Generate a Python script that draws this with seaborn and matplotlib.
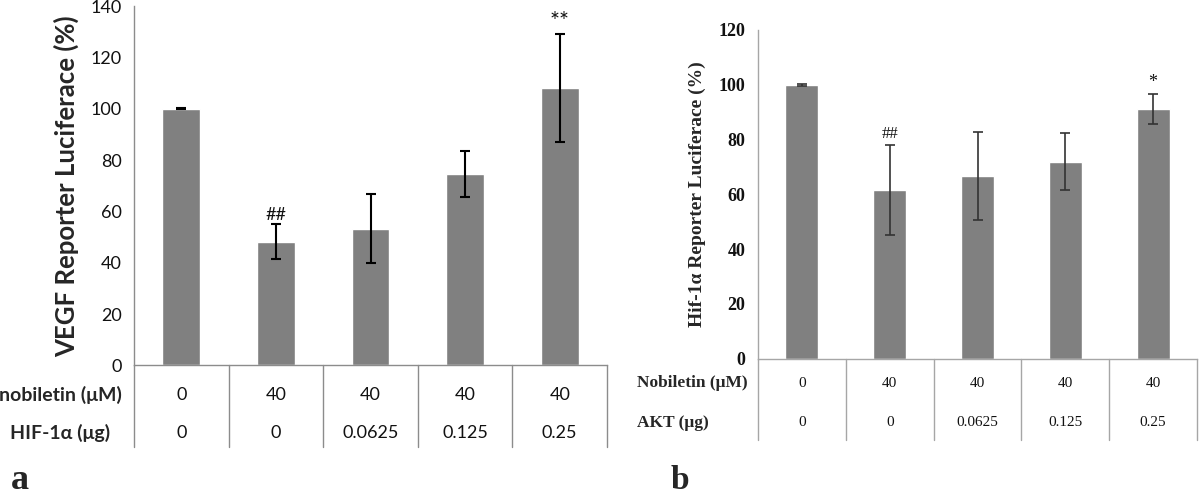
import numpy as np
import pandas as pd
import matplotlib
matplotlib.use("Agg")
import matplotlib.pyplot as plt
import matplotlib.transforms as mtransforms
import seaborn as sns

# panel a: VEGF reporter
nobiletin_a = ["0", "40", "40", "40", "40"]
hif_a = ["0", "0", "0.0625", "0.125", "0.25"]
vegf_mean = [100.0, 48.2, 53.3, 74.6, 108.2]
vegf_err = [0.3, 6.9, 13.5, 8.9, 21.0]
marks_a = ["", "##", "", "", "**"]

# panel b: Hif-1a reporter
nobiletin_b = ["0", "40", "40", "40", "40"]
akt_b = ["0", "0", "0.0625", "0.125", "0.25"]
hif_mean = [100.0, 61.5, 66.7, 71.9, 91.1]
hif_err = [0.3, 16.5, 16.0, 10.3, 5.5]
marks_b = ["", "##", "", "", "*"]

sns.set_style("white")
SANS = ["Lato", "DejaVu Sans"]
SERIF = ["Liberation Serif", "DejaVu Serif"]
plt.rcParams["font.family"] = SANS

W, H = 1200, 496
fig = plt.figure(figsize=(12, 4.96), dpi=100)


def px_axes(left, right, top, bottom):
    return fig.add_axes([left / W, 1 - bottom / H, (right - left) / W, (bottom - top) / H])


def draw_panel(ax, row1, row2, mean, err, marks, ymax, step, font, tick_size,
               val_size, ecolor, elw, spine_col, width, table_depth, rows_y, mark_off):
    df = pd.DataFrame({"cond": [f"{a}|{b}" for a, b in zip(row1, row2)], "val": mean})
    sns.barplot(data=df, x="cond", y="val", color="#808080", saturation=1,
                width=width, errorbar=None, ax=ax)
    ax.errorbar(np.arange(len(mean)), mean, yerr=err, fmt="none", ecolor=ecolor,
                elinewidth=elw, capsize=3.6, capthick=elw)
    ax.set_xlim(-0.5, len(mean) - 0.5)
    ax.set_ylim(0, ymax)
    ax.set_yticks(np.arange(0, ymax + 1, step))
    ax.set_xticks([])
    ax.set_xlabel("")
    ax.set_ylabel("")
    for s in ["top", "right"]:
        ax.spines[s].set_visible(False)
    for s in ["left", "bottom"]:
        ax.spines[s].set_color(spine_col)
        ax.spines[s].set_linewidth(1.0)
    ax.tick_params(axis="y", direction="out", length=5, width=1.0, color=spine_col,
                   pad=4, labelsize=tick_size)
    for lab in ax.get_yticklabels():
        lab.set_family(font["family"])
        lab.set_fontweight(font["tick_weight"])
        lab.set_color("#111111")
    # significance marks
    for i, (m, v, e) in enumerate(zip(marks, mean, err)):
        if m:
            size = font["star_size"] if "*" in m else font["mark_size"]
            ax.text(i, v + e + mark_off, m, ha="center", va="bottom",
                    fontsize=size, family=font["family"], color="#111111")
    # table under the axis
    trans = mtransforms.blended_transform_factory(ax.transData, ax.transAxes)
    for x in np.arange(len(mean) + 1) - 0.5:
        ax.plot([x, x], [0, table_depth], transform=trans, color=spine_col,
                lw=1.0, clip_on=False)
    for i in range(len(mean)):
        ax.text(i, rows_y[0], row1[i], transform=trans, ha="center", va="center",
                fontsize=val_size, family=font["family"],
                fontweight=font["val_weight"], color="#111111")
        ax.text(i, rows_y[1], row2[i], transform=trans, ha="center", va="center",
                fontsize=val_size, family=font["family"],
                fontweight=font["val_weight"], color="#111111")


# ---- panel a ----
ax_a = px_axes(134, 607, 6, 365.4)
draw_panel(ax_a, nobiletin_a, hif_a, vegf_mean, vegf_err, marks_a, 140, 20,
           {"family": SANS, "tick_weight": "normal", "val_weight": "normal",
            "mark_size": 13, "star_size": 17},
           tick_size=13, val_size=13, ecolor="black", elw=1.5, spine_col="#8c8c8c",
           width=0.4, table_depth=-0.227, rows_y=(-0.082, -0.188), mark_off=0.5)
fig.text(66 / W, 1 - 186 / H, "VEGF Reporter Luciferace (%)", rotation=90,
         ha="center", va="center", fontsize=18.5, fontweight="bold", family=SANS)
fig.text(60 / W, 1 - 395 / H, "nobiletin (\u03bcM)", ha="center", va="center",
         fontsize=14, fontweight="bold", family=SANS)
fig.text(60 / W, 1 - 433 / H, "HIF-1\u03b1 (\u03bcg)", ha="center", va="center",
         fontsize=14, fontweight="bold", family=SANS)
fig.text(20 / W, 1 - 489 / H, "a", ha="center", va="baseline", fontsize=26,
         fontweight="bold", family=SERIF)

# ---- panel b ----
ax_b = px_axes(758, 1197, 30, 358.5)
draw_panel(ax_b, nobiletin_b, akt_b, hif_mean, hif_err, marks_b, 120, 20,
           {"family": SERIF, "tick_weight": "bold", "val_weight": "normal",
            "mark_size": 12, "star_size": 13},
           tick_size=13, val_size=11, ecolor="#333333", elw=1.2, spine_col="#a6a6a6",
           width=0.375, table_depth=-0.248, rows_y=(-0.0746, -0.196), mark_off=1.0)
fig.text(697 / W, 1 - 194 / H, "Hif-1\u03b1 Reporter Luciferace (%)", rotation=90,
         ha="center", va="center", fontsize=14, fontweight="bold", family=SERIF)
fig.text(637 / W, 1 - 383 / H, "Nobiletin (\u03bcM)", ha="left", va="center",
         fontsize=12.5, fontweight="bold", family=SERIF)
fig.text(637 / W, 1 - 423 / H, "AKT (\u03bcg)", ha="left", va="center",
         fontsize=12.5, fontweight="bold", family=SERIF)
fig.text(680 / W, 1 - 489 / H, "b", ha="center", va="baseline", fontsize=24,
         fontweight="bold", family=SERIF)

fig.savefig("out.png", dpi=100, facecolor="white")
